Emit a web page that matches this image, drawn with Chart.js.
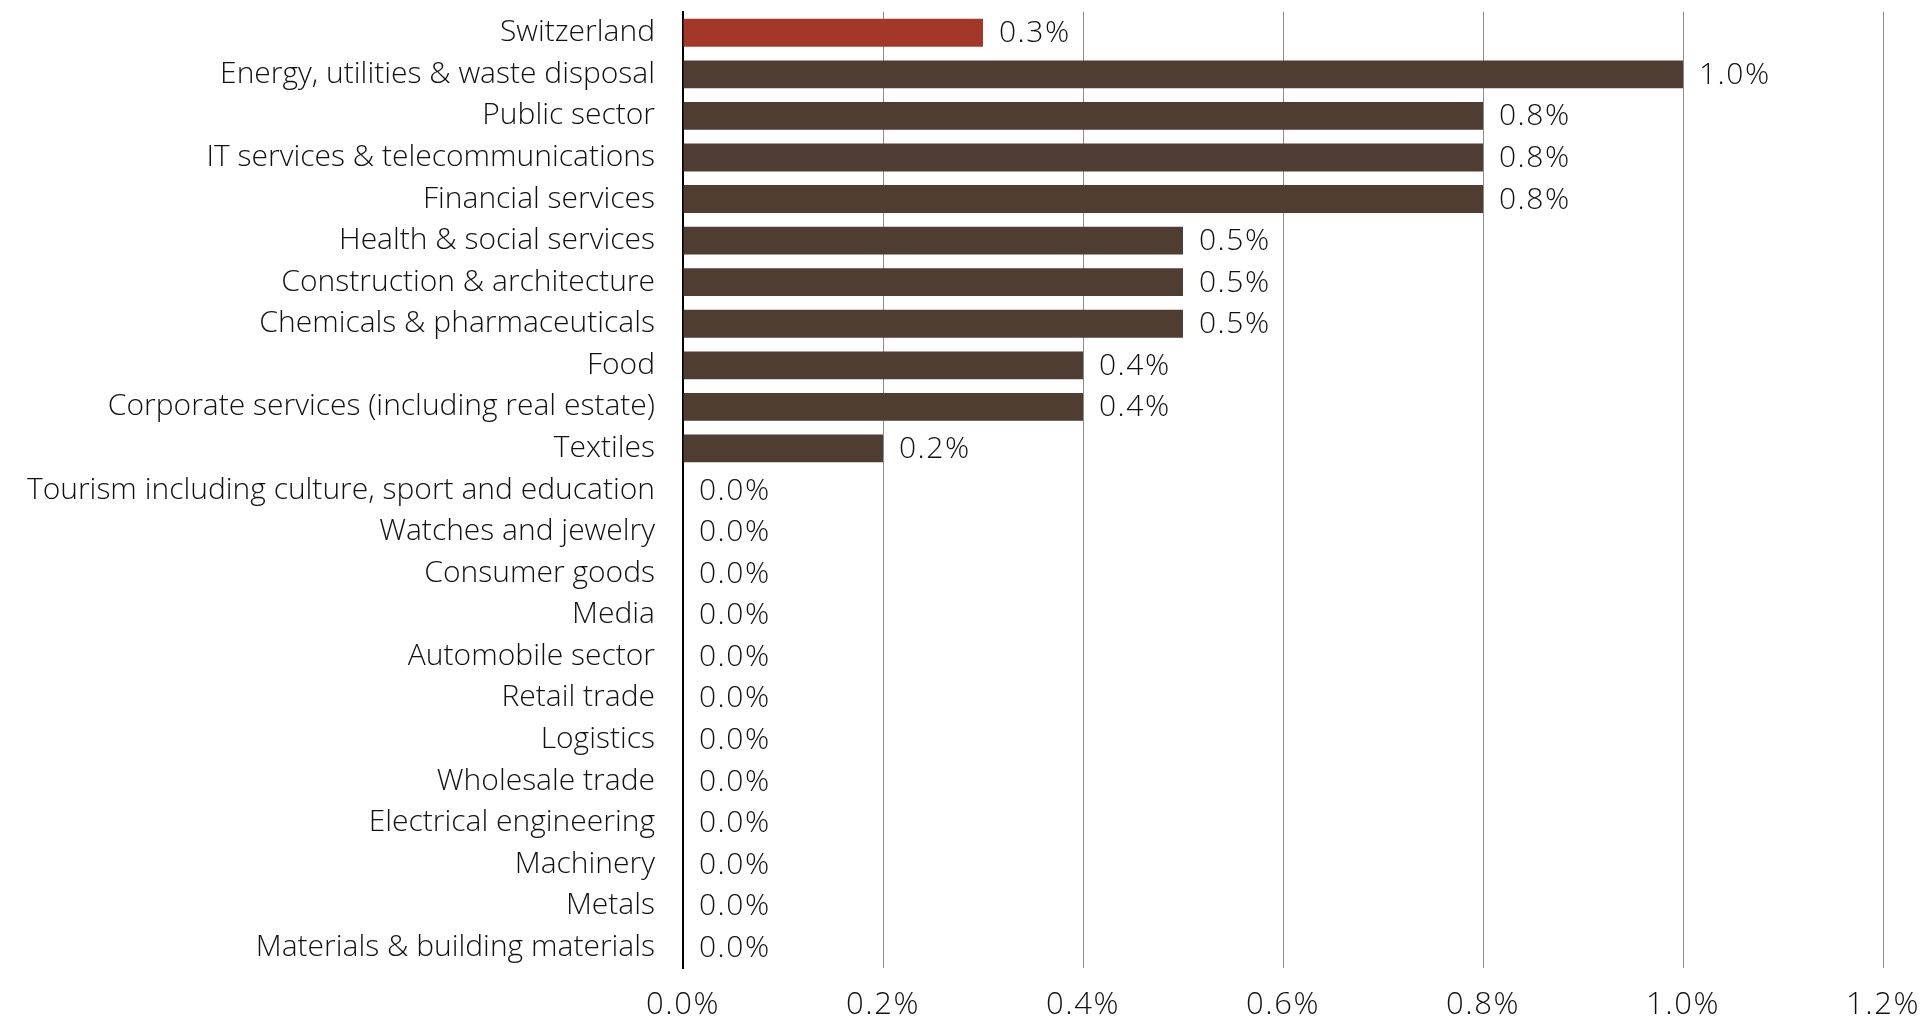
<!DOCTYPE html>
<html>
<head>
<meta charset="utf-8">
<script src="https://cdn.jsdelivr.net/npm/chart.js@4.4.1/dist/chart.umd.min.js"></script>
<style>
  html, body { margin:0; padding:0; background:#fff; }
  #wrap { width:1927px; height:1022px; }
</style>
</head>
<body>
<div id="wrap"><canvas id="sectorChart"></canvas></div>
<script>
"use strict";

const sectors = [
  'Switzerland',
  'Energy, utilities & waste disposal',
  'Public sector',
  'IT services & telecommunications',
  'Financial services',
  'Health & social services',
  'Construction & architecture',
  'Chemicals & pharmaceuticals',
  'Food',
  'Corporate services (including real estate)',
  'Textiles',
  'Tourism including culture, sport and education',
  'Watches and jewelry',
  'Consumer goods',
  'Media',
  'Automobile sector',
  'Retail trade',
  'Logistics',
  'Wholesale trade',
  'Electrical engineering',
  'Machinery',
  'Metals',
  'Materials & building materials'
];
const shares = [0.3, 1.0, 0.8, 0.8, 0.8, 0.5, 0.5, 0.5, 0.4, 0.4, 0.2,
                0.0, 0.0, 0.0, 0.0, 0.0, 0.0, 0.0, 0.0, 0.0, 0.0, 0.0, 0.0];
const xTicks = [0, 0.2, 0.4, 0.6, 0.8, 1.0, 1.2];

const RED = '#A43828';
const BROWN = '#4F3D32';
const FONT = '"Open Sans", "Noto Sans", sans-serif';
const pct = v => v.toFixed(1) + '%';

// numbers: bar values to the right of each bar, and the x tick labels
const numberLabels = {
  id:'numberLabels',
  afterDatasetsDraw(chart) {
    const {ctx, chartArea:ca, scales} = chart;
    const meta = chart.getDatasetMeta(0);
    ctx.save();
    ctx.fillStyle = '#111';
    ctx.textBaseline = 'middle';
    ctx.letterSpacing = '1.5px';

    ctx.font = `300 30px ${FONT}`;
    ctx.textAlign = 'left';
    meta.data.forEach((bar, i) => {
      ctx.fillText(pct(shares[i]), bar.x + 16, bar.y + 1);
    });

    ctx.font = `300 31px ${FONT}`;
    ctx.textAlign = 'center';
    xTicks.forEach(v => {
      ctx.fillText(pct(v), scales.x.getPixelForValue(v), ca.bottom + 37);
    });
    ctx.restore();
  }
};

new Chart(document.getElementById('sectorChart'), {
  type:'bar',
  data:{
    labels:sectors,
    datasets:[{
      data:shares,
      backgroundColor:shares.map((_, i) => i === 0 ? RED : BROWN),
      borderWidth:0,
      categoryPercentage:1,
      barPercentage:0.67
    }]
  },
  options:{
    indexAxis:'y',
    responsive:true,
    maintainAspectRatio:false,
    animation:false,
    layout:{ padding:{ top:12, right:44, left:0, bottom:0 } },
    plugins:{ legend:{ display:false }, tooltip:{ enabled:false } },
    scales:{
      x:{
        min:0, max:1.2,
        afterBuildTicks:s => { s.ticks = xTicks.map(v => ({ value:v })); },
        afterFit:s => { s.height = 54; s.paddingLeft = 0; s.paddingRight = 0; },
        ticks:{ display:false },
        grid:{ color:'#8a8a8a', lineWidth:1, drawTicks:false },
        border:{ display:false }
      },
      y:{
        afterFit:s => { s.width = 683; s.paddingTop = 0; s.paddingBottom = 0; },
        ticks:{ color:'#111', padding:28, font:{ family:FONT, size:30, weight:'300' }, autoSkip:false },
        grid:{ display:false, drawTicks:false },
        border:{ display:true, color:'#000', width:2 }
      }
    }
  },
  plugins:[numberLabels]
});
</script>
</body>
</html>
